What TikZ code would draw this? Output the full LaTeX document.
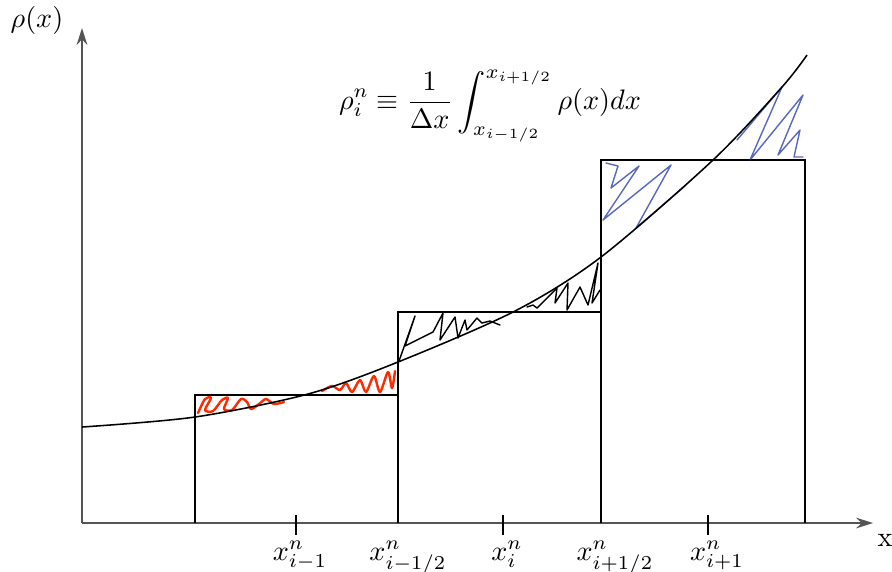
\documentclass[tikz,border=0pt]{standalone}
\usepackage{amsmath}
\usetikzlibrary{arrows.meta}
\definecolor{scribred}{HTML}{FF2A00}
\definecolor{scribblue}{HTML}{2036A6}
\definecolor{axisgray}{HTML}{555555}
\tikzset{
  >={Stealth[length=6pt,width=3.8pt]},
  axisline/.style={line width=0.6pt, draw=axisgray, ->},
  cellbox/.style={draw=black, line width=0.45pt},
  tickmark/.style={draw=black, line width=0.45pt},
  profile/.style={draw=black, line width=0.55pt},
  scribble/.style={line width=0.5pt, line join=round, line cap=round},
  ticklabel/.style={anchor=north, inner sep=1pt},
}

\begin{document}
\begin{tikzpicture}[x=0.355pt, y=-0.355pt]
\useasboundingbox (0,0) rectangle (892,571);

% ===================== axes =====================
\coordinate (O) at (82,523);
\coordinate (xend) at (873,523);
\coordinate (yend) at (82,28);
\draw[axisline] (O) -- (xend);
\draw[axisline] (O) -- (yend);
\node (xlab) at (885,540) {x};
\node (ylab) at (37,20) {$\rho(x)$};

% ===================== cell averages =====================
\draw[cellbox] (195,523) |- (398,395) -- (398,523);
\draw[cellbox] (398,523) |- (601,312) -- (601,523);
\draw[cellbox] (601,523) |- (805,160) -- (805,523);

% ticks and labels
\foreach \t in {296,503,708}{\draw[tickmark] (\t,515) -- (\t,535);}
\foreach \px/\lab [count=\k] in {300/{x^n_{i-1}},408/{x^n_{i-1/2}},507/{x^n_i},
                                 615/{x^n_{i+1/2}},717/{x^n_{i+1}}}{
  \node[ticklabel] (lab\k) at (\px,538) {$\lab$};}

% ===================== scribbled areas =====================
\draw[scribble, scribred, line width=0.85pt] plot[smooth, tension=0.5] coordinates {
  (198,413) (205,399) (211,398) (205,410) (213,411) (222,400) (228,398) (224,409)
  (232,410) (241,399) (247,402) (251,409) (259,404) (266,399) (274,404) (284,402)};
\draw[scribble, scribred, line width=0.85pt] plot[smooth, tension=0.5] coordinates {
  (322,391) (332,386) (340,390) (346,383) (352,392) (360,380) (366,392) (374,376)
  (380,392) (388,372) (392,388) (395,371)};

\draw[scribble] (399,361) -- (415,316) -- (405,346) -- (433,332) -- (443,313)
  -- (440,340) -- (455,317) -- (458,338) -- (465,320) -- (467,330) -- (477,318)
  -- (482,323) -- (490,321) -- (500,325);
\draw[scribble] (527,307) -- (533,305) -- (537,308) -- (542,303) -- (548,297)
  -- (557,288) -- (555,303) -- (568,283) -- (567,310) -- (580,287) -- (588,305)
  -- (598,263) -- (592,303) -- (600,290);

\draw[scribble, scribblue, opacity=0.75] (606,163) -- (618,166) -- (611,188)
  -- (639,166) -- (603,220) -- (671,165) -- (636,228) -- (686,185);
\draw[scribble, scribblue, opacity=0.75] (737,140) -- (782,87) -- (750,160)
  -- (803,95) -- (778,155) -- (800,130) -- (794,157) -- (803,157);

% ===================== density profile =====================
\draw[profile] plot[smooth] coordinates {(82,427) (195,417) (308,394) (398,362)
  (515,311) (601,257) (713,160) (782,87) (807,55)};

\node (avg) at (490,106)
  {$\displaystyle \rho^n_i \equiv \frac{1}{\Delta x}\int_{x_{i-1/2}}^{x_{i+1/2}} \rho(x)dx$};

\end{tikzpicture}
\end{document}
